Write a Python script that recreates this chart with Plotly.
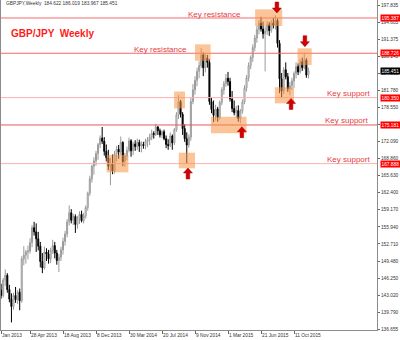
import pandas as pd
import plotly.graph_objects as go

# ---------------- data ----------------
week_start = "2013-01-06"
n_weeks = 152
dates = pd.date_range(week_start, periods=n_weeks, freq="7D")

opens = [139.8, 141.6, 144.0, 143.0, 145.9, 146.8, 144.1, 142.3, 140.9, 143.0,
         142.2, 143.6, 142.0, 149.9, 150.6, 151.2, 151.4, 153.0, 155.8, 155.0,
         153.7, 152.3, 149.4, 148.2, 151.2, 150.8, 149.9, 151.5, 152.4, 151.0,
         149.6, 150.2, 151.6, 153.2, 154.6, 156.9, 158.6, 157.2, 157.9, 156.4,
         157.6, 158.3, 157.1, 158.0, 159.6, 162.3, 165.0, 167.4, 168.4, 169.8,
         171.5, 172.7, 172.1, 170.2, 169.0, 167.4, 168.0, 166.5, 169.7, 170.6,
         170.1, 171.9, 168.3, 169.3, 170.4, 172.2, 170.3, 171.6, 171.1, 171.9,
         171.2, 171.5, 171.3, 172.1, 172.4, 172.9, 173.6, 173.4, 174.8, 174.1,
         173.3, 173.9, 172.6, 171.5, 171.3, 173.1, 171.8, 174.3, 177.1, 179.6,
         177.2, 174.5, 172.6, 171.4, 172.9, 179.6, 181.8, 183.6, 185.3, 186.4,
         188.4, 186.0, 187.8, 187.0, 179.6, 178.1, 177.0, 178.2, 176.6, 179.4,
         181.8, 183.0, 184.0, 183.4, 180.1, 178.3, 177.5, 177.9, 176.4, 177.8,
         179.5, 182.2, 184.1, 186.4, 187.9, 189.8, 191.6, 193.2, 194.4, 193.3,
         192.4, 192.9, 194.1, 193.0, 194.4, 194.0, 194.9, 190.6, 183.9, 181.6,
         185.6, 184.3, 182.0, 182.6, 183.5, 184.9, 186.2, 185.2, 187.1, 186.0,
         187.4, 184.622]
highs = [142.0, 144.6, 145.2, 146.3, 147.9, 147.2, 145.0, 143.4, 143.5, 144.6,
         144.0, 144.3, 150.4, 152.3, 151.6, 152.4, 153.8, 156.3, 156.9, 156.6,
         155.0, 153.1, 151.0, 152.2, 151.9, 151.6, 152.0, 153.5, 153.1, 151.6,
         150.8, 152.2, 153.9, 155.2, 157.4, 160.0, 159.3, 158.4, 158.3, 158.0,
         158.9, 159.0, 158.6, 160.0, 162.6, 165.6, 167.7, 169.1, 170.3, 171.8,
         173.2, 174.8, 172.9, 171.5, 170.5, 168.9, 169.6, 170.3, 171.2, 171.4,
         173.0, 172.1, 169.9, 171.1, 172.8, 172.5, 172.0, 172.3, 172.6, 172.4,
         172.1, 172.0, 172.6, 172.9, 173.5, 174.3, 174.0, 175.4, 175.0, 174.5,
         174.2, 174.3, 173.2, 172.5, 173.8, 173.4, 174.6, 177.6, 180.8, 179.9,
         177.6, 175.3, 173.8, 173.4, 180.4, 182.9, 184.4, 186.0, 187.2, 189.7,
         188.9, 188.6, 188.4, 187.6, 180.3, 179.8, 179.0, 178.6, 179.8, 182.3,
         183.5, 184.8, 185.2, 184.1, 181.6, 179.8, 178.8, 178.9, 178.2, 180.0,
         182.7, 184.6, 187.0, 188.3, 190.4, 192.2, 193.9, 195.0, 195.6, 194.7,
         193.8, 194.8, 194.6, 195.0, 195.4, 195.9, 195.3, 191.2, 185.0, 186.1,
         187.0, 185.0, 183.3, 184.1, 185.3, 187.0, 186.8, 187.6, 187.9, 188.8,
         187.8, 186.019]
lows = [139.2, 141.0, 142.4, 142.6, 144.8, 143.5, 141.7, 137.9, 140.3, 141.6,
        141.4, 140.2, 141.6, 148.7, 149.0, 149.8, 150.9, 152.1, 154.3, 151.2,
        151.5, 148.3, 147.2, 147.9, 149.5, 149.0, 149.1, 150.8, 150.0, 148.8,
        147.4, 149.5, 150.7, 152.4, 154.0, 156.2, 156.6, 156.3, 154.8, 155.6,
        156.5, 156.8, 156.6, 157.5, 159.0, 161.8, 164.3, 165.8, 167.5, 168.6,
        170.8, 171.6, 169.4, 168.3, 166.7, 163.8, 165.9, 166.0, 168.3, 168.8,
        169.5, 167.4, 167.3, 168.5, 170.0, 169.2, 169.5, 170.3, 170.5, 170.1,
        170.0, 170.7, 170.6, 171.0, 171.4, 172.3, 172.6, 173.1, 173.3, 172.8,
        172.7, 172.3, 170.8, 170.5, 171.0, 170.5, 171.4, 173.9, 176.3, 176.6,
        173.3, 172.0, 167.9, 170.9, 172.2, 179.1, 180.9, 182.5, 184.0, 185.9,
        184.4, 185.1, 186.0, 179.0, 177.4, 175.7, 176.0, 175.8, 176.2, 178.9,
        180.9, 182.4, 182.6, 179.6, 177.6, 177.0, 176.5, 175.8, 175.5, 177.3,
        179.1, 181.5, 183.4, 185.7, 187.1, 189.1, 190.7, 192.3, 192.8, 191.5,
        185.3, 192.2, 192.0, 192.6, 193.4, 193.2, 189.8, 181.2, 180.3, 181.0,
        183.8, 181.4, 180.8, 181.8, 182.2, 184.0, 184.6, 184.9, 185.4, 185.7,
        184.1, 183.967]
closes = [141.6, 144.0, 143.0, 145.9, 146.8, 144.1, 142.3, 140.9, 143.0, 142.2,
          143.6, 142.0, 149.9, 150.6, 151.2, 151.4, 153.0, 155.8, 155.0, 153.7,
          152.3, 149.4, 148.2, 151.2, 150.8, 149.9, 151.5, 152.4, 151.0, 149.6,
          150.2, 151.6, 153.2, 154.6, 156.9, 158.6, 157.2, 157.9, 156.4, 157.6,
          158.3, 157.1, 158.0, 159.6, 162.3, 165.0, 167.4, 168.4, 169.8, 171.5,
          172.7, 172.1, 170.2, 169.0, 167.4, 168.0, 166.5, 169.7, 170.6, 170.1,
          171.9, 168.3, 169.3, 170.4, 172.2, 170.3, 171.6, 171.1, 171.9, 171.2,
          171.5, 171.3, 172.1, 172.4, 172.9, 173.6, 173.4, 174.8, 174.1, 173.3,
          173.9, 172.6, 171.5, 171.3, 173.1, 171.8, 174.3, 177.1, 179.6, 177.2,
          174.5, 172.6, 171.4, 172.9, 179.6, 181.8, 183.6, 185.3, 186.4, 188.4,
          186.0, 187.8, 187.0, 179.6, 178.1, 177.0, 178.2, 176.6, 179.4, 181.8,
          183.0, 184.0, 183.4, 180.1, 178.3, 177.5, 177.9, 176.4, 177.8, 179.5,
          182.2, 184.1, 186.4, 187.9, 189.8, 191.6, 193.2, 194.4, 193.3, 192.4,
          192.9, 194.1, 193.0, 194.4, 194.0, 194.9, 190.6, 183.9, 181.6, 185.6,
          184.3, 182.0, 182.6, 183.5, 184.9, 186.2, 185.2, 187.1, 186.0, 187.4,
          184.6, 185.451]

# horizontal key levels
level_prices = [195.387, 188.726, 180.350, 175.181, 167.888]
level_colors = ["#f26a6a", "#f26a6a", "#ffb0b0", "#e65a5a", "#ffb0b0"]

# highlight boxes (start, end, low, high)
box_start = ["2015-06-01", "2014-11-09", "2014-08-30", "2014-09-15", "2014-01-13",
             "2015-01-02", "2015-08-07", "2015-10-23"]
box_end = ["2015-09-01", "2015-01-01", "2014-10-06", "2014-11-09", "2014-03-28",
           "2015-05-03", "2015-10-11", "2015-12-10"]
box_low = [193.87, 187.30, 178.30, 167.00, 166.24, 173.60, 179.27, 186.50]
box_high = [197.02, 190.41, 181.50, 169.95, 169.51, 176.74, 182.30, 189.66]

# arrows (date, tip price, direction)
arrow_dates = ["2015-08-14", "2015-11-17", "2015-10-01", "2015-04-17", "2014-10-16"]
arrow_prices = [196.32, 189.96, 180.20, 174.86, 167.06]
arrow_dirs = ["down", "down", "up", "up", "up"]

# y tick labels (right axis)
ytick_vals = [197.835, 194.605, 191.375, 188.145, 184.915, 181.780, 178.550, 175.320,
              172.090, 168.860, 165.630, 162.400, 159.170, 155.940, 152.710, 149.480,
              146.250, 143.020, 139.790, 136.655]
ytick_text = ["%.3f" % v for v in ytick_vals]

# x tick labels
xtick_dates = ["2013-01-20", "2013-04-28", "2013-08-18", "2013-12-08", "2014-03-30",
               "2014-07-20", "2014-11-09", "2015-03-01", "2015-06-21", "2015-10-11"]
xtick_text = ["Jan 2013", "28 Apr 2013", "18 Aug 2013", "8 Dec 2013", "30 Mar 2014",
              "20 Jul 2014", "9 Nov 2014", "1 Mar 2015", "21 Jun 2015", "11 Oct 2015"]

header_text = "GBPJPY,Weekly  184.622 186.019 183.967 185.451"
title_text = "GBP/JPY  Weekly"
last_price = 185.451

# text labels: (text, left px, center y px)
label_texts = ["Key resistance", "Key resistance", "Key support", "Key support", "Key support"]
label_px = [(187, 15), (133, 49.5), (326, 93), (324, 120.5), (326, 159)]

# ---------------- layout geometry ----------------
W, H = 400, 340
ML, MR, MT, MB = 1, 23, 0, 10
PW, PH = W - ML - MR, H - MT - MB


def px_to_paper(px, py):
    return (px - ML) / PW, (H - MB - py) / PH


fig = go.Figure()
fig.add_trace(go.Candlestick(
    x=dates, open=opens, high=highs, low=lows, close=closes,
    increasing=dict(line=dict(color="#9a9a9a", width=1), fillcolor="#ffffff"),
    decreasing=dict(line=dict(color="#000000", width=1), fillcolor="#000000"),
    whiskerwidth=0, hoverinfo="skip", showlegend=False,
))

shapes = []
for p, c in zip(level_prices, level_colors):
    shapes.append(dict(type="line", xref="paper", yref="y", x0=0, x1=1, y0=p, y1=p,
                       line=dict(color=c, width=1), layer="above"))
for x0, x1, y0, y1 in zip(box_start, box_end, box_low, box_high):
    shapes.append(dict(type="rect", xref="x", yref="y", x0=x0, x1=x1, y0=y0, y1=y1,
                       fillcolor="rgba(247,150,70,0.55)", line=dict(width=0), layer="above"))

up_path = "M0,0 L4.5,-5 L1.8,-5 L1.8,-11 L-1.8,-11 L-1.8,-5 L-4.5,-5 Z"
down_path = "M0,0 L4.5,5 L1.8,5 L1.8,11 L-1.8,11 L-1.8,5 L-4.5,5 Z"
for d, p, dr in zip(arrow_dates, arrow_prices, arrow_dirs):
    shapes.append(dict(type="path", xref="x", yref="y", xsizemode="pixel", ysizemode="pixel",
                       xanchor=d, yanchor=p, path=up_path if dr == "up" else down_path,
                       fillcolor="#d40000", line=dict(color="#a00000", width=0.5), layer="above"))

annotations = []
hx, hy = px_to_paper(4, 4)
annotations.append(dict(text=header_text, xref="paper", yref="paper", x=hx, y=hy,
                        xanchor="left", yanchor="middle", showarrow=False,
                        font=dict(family="Liberation Sans", size=4.8, color="#333333")))
tx, ty = px_to_paper(9, 33.5)
annotations.append(dict(text="<b>%s</b>" % title_text, xref="paper", yref="paper", x=tx, y=ty,
                        xanchor="left", yanchor="middle", showarrow=False,
                        font=dict(family="Liberation Sans", size=10, color="#ff1a1a")))
for t, (lx, ly) in zip(label_texts, label_px):
    ax, ay = px_to_paper(lx, ly)
    annotations.append(dict(text=t, xref="paper", yref="paper", x=ax, y=ay,
                            xanchor="left", yanchor="middle", showarrow=False, borderpad=0,
                            font=dict(family="Liberation Sans", size=8, color="#e4403f")))
for p in level_prices:
    annotations.append(dict(text="%.3f" % p, xref="paper", yref="y", x=1, y=p, xshift=3,
                            xanchor="left", yanchor="middle", showarrow=False,
                            bgcolor="#ff0000", borderpad=0.5,
                            font=dict(family="Liberation Sans", size=4.8, color="#ffffff")))
annotations.append(dict(text="%.3f" % last_price, xref="paper", yref="y", x=1, y=last_price,
                        xshift=3, xanchor="left", yanchor="middle", showarrow=False,
                        bgcolor="#000000", borderpad=0.5,
                        font=dict(family="Liberation Sans", size=4.8, color="#ffffff")))

fig.update_layout(
    width=W, height=H, margin=dict(l=ML, r=MR, t=MT, b=MB),
    paper_bgcolor="white", plot_bgcolor="white",
    shapes=shapes, annotations=annotations, showlegend=False, hovermode=False,
    xaxis=dict(type="date", range=["2013-01-19 14:00", "2016-07-18 17:00"],
               rangeslider=dict(visible=False), showgrid=False, zeroline=False,
               tickvals=xtick_dates, ticktext=xtick_text, tickangle=0,
               ticks="outside", ticklen=3, tickcolor="#666666",
               ticklabelposition="outside right",
               tickfont=dict(family="Liberation Sans", size=4.8, color="#333333"),
               showline=True, linecolor="#8c8c8c", linewidth=1),
    yaxis=dict(range=[136.47, 198.78], side="right", showgrid=False, zeroline=False,
               tickvals=ytick_vals, ticktext=ytick_text,
               ticks="outside", ticklen=2, tickcolor="#666666",
               tickfont=dict(family="Liberation Sans", size=4.8, color="#333333"),
               showline=True, linecolor="#8c8c8c", linewidth=1, mirror=True),
)

fig.write_html("out.html")
